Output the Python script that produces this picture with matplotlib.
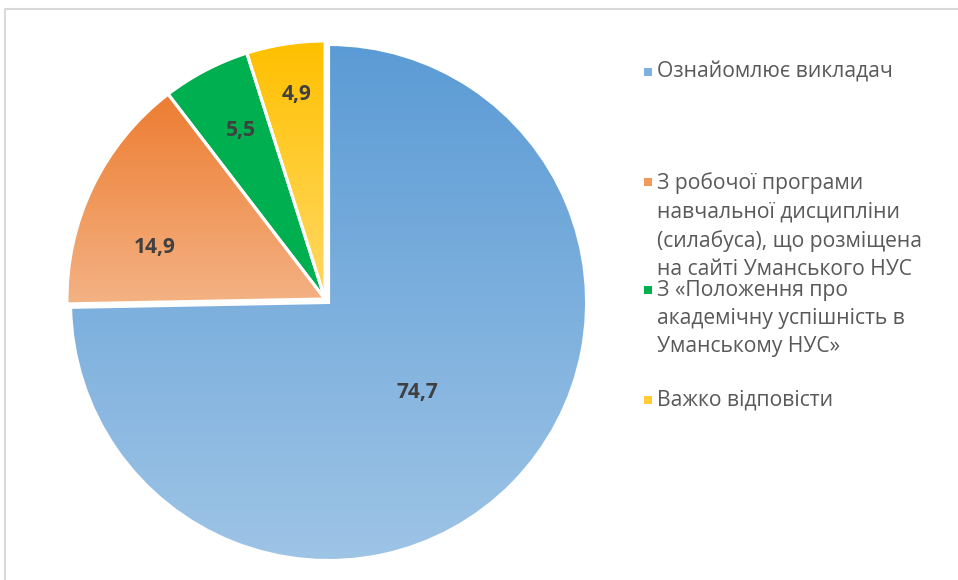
import numpy as np
import matplotlib
matplotlib.use("Agg")
import matplotlib.pyplot as plt
from matplotlib.lines import Line2D
from matplotlib.patches import Rectangle

plt.rcParams['font.family'] = ['Open Sans', 'DejaVu Sans']

# дані
labels = ["Ознайомлює викладач",
          "З робочої програми\nнавчальної дисципліни\n(силабуса), що розміщена\nна сайті Уманського НУС",
          "З «Положення про\nакадемічну успішність в\nУманському НУС»",
          "Важко відповісти"]
values = [74.7, 14.9, 5.5, 4.9]
value_text = ["74,7", "14,9", "5,5", "4,9"]

# градієнти (верх, низ)
top_colors = ["#5b9bd5", "#ed7d31", "#00b050", "#ffc000"]
bottom_colors = ["#9ec4e6", "#f4b284", "#00b050", "#ffd966"]

W, H = 958, 580
fig = plt.figure(figsize=(W / 100, H / 100), dpi=100)
ax = fig.add_axes([0, 0, 1, 1])

cx, cy, R = 325, H - 299, 258
wedges, _ = ax.pie(values, startangle=90, counterclock=False, center=(cx, cy),
                   radius=R, explode=[5, 0, 0, 0],
                   wedgeprops=dict(facecolor='none', edgecolor='white', linewidth=2.2))


def hex2rgb(h):
    return np.array([int(h[i:i + 2], 16) for i in (1, 3, 5)]) / 255.0


for w, ct, cb in zip(wedges, top_colors, bottom_colors):
    ext = w.get_path().get_extents()
    t = np.linspace(0, 1, 256)[:, None, None]
    grad = hex2rgb(cb) * (1 - t) + hex2rgb(ct) * t
    im = ax.imshow(grad, extent=(ext.x0, ext.x1, ext.y0, ext.y1), origin='lower',
                   aspect='auto', zorder=0, interpolation='bilinear')
    im.set_clip_path(w)

# підписи значень
label_dist = [0.49, 0.69, 0.73, 0.80]
label_shift = [-1, 9, -1, -1]
for w, txt, d, s in zip(wedges, value_text, label_dist, label_shift):
    ang = np.deg2rad((w.theta1 + w.theta2) / 2 + s)
    x0, y0 = w.center
    ax.text(x0 + d * R * np.cos(ang), y0 + d * R * np.sin(ang), txt,
            ha='center', va='center', fontsize=15, fontweight='bold', color='#404040')

ax.set_xlim(0, W)
ax.set_ylim(0, H)
ax.set_aspect('equal')
ax.axis('off')

# легенда
legend_y = [72, 182, 290, 400]
for lab, ct, cb, y in zip(labels, top_colors, bottom_colors, legend_y):
    col = (hex2rgb(ct) + hex2rgb(cb)) / 2
    fig.patches.append(Rectangle((644 / W, 1 - (y + 4) / H), 8 / W, 8 / H,
                                 transform=fig.transFigure, facecolor=col, edgecolor='none'))
    fig.text(657 / W, 1 - (y - 10) / H, lab, ha='left', va='top', fontsize=15.2,
             color='#595959', linespacing=1.45)

# рамка
fig.lines.append(Line2D([5 / W, 5 / W, 1], [0, 1 - 9 / H, 1 - 9 / H],
                        transform=fig.transFigure, color='#d9d9d9', linewidth=1.5))

fig.savefig("out.png", dpi=100, facecolor='white')
